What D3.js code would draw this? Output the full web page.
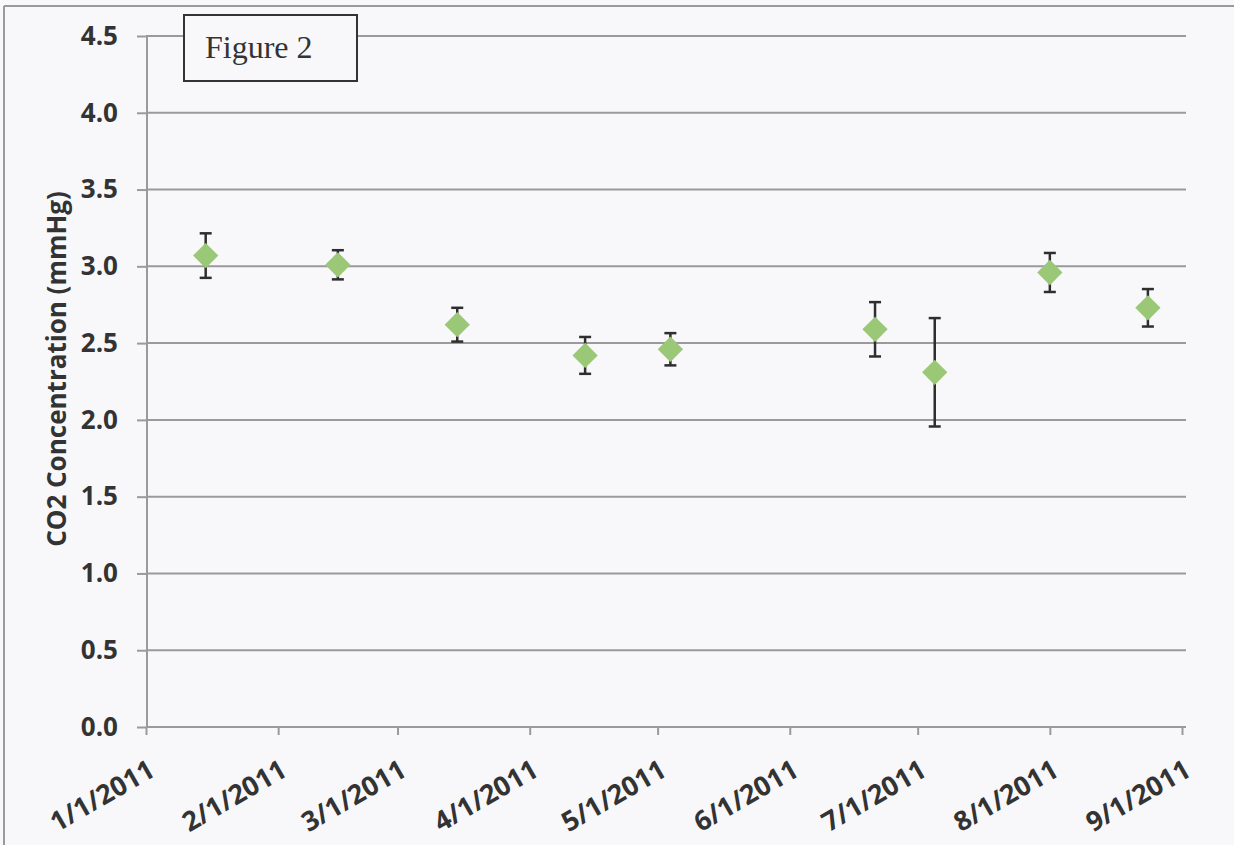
<!DOCTYPE html>
<html>
<head>
<meta charset="utf-8">
<script src="https://cdn.jsdelivr.net/npm/d3@7"></script>
<style>
  html, body { margin: 0; padding: 0; background: #f8f8fb; }
  svg { display: block; }
</style>
</head>
<body>
<div id="chart"></div>
<script>
// sample dates, mean CO2 and +/- error
var sampleDates = ["2011-01-15", "2011-02-15", "2011-03-15", "2011-04-14", "2011-05-04",
                   "2011-06-21", "2011-07-05", "2011-08-01", "2011-08-24"];
var co2Values = [3.07, 3.01, 2.62, 2.42, 2.46, 2.59, 2.31, 2.96, 2.73];
var co2Errors = [0.145, 0.095, 0.11, 0.12, 0.105, 0.177, 0.353, 0.127, 0.122];
var xTickDates = ["2011-01-01", "2011-02-01", "2011-03-01", "2011-04-01", "2011-05-01",
                  "2011-06-01", "2011-07-01", "2011-08-01", "2011-09-01"];
var yTicks = [0, 0.5, 1, 1.5, 2, 2.5, 3, 3.5, 4, 4.5];

var width = 1234, height = 845;
var parse = d3.timeParse("%Y-%m-%d");

var svg = d3.select("#chart")
  .append("svg")
  .attr("width", width)
  .attr("height", height);

svg.append("rect")
  .attr("width", width)
  .attr("height", height)
  .attr("fill", "#f8f8fb");

// scan frame (left and top edge)
svg.append("line")
  .attr("x1", 4).attr("y1", 6).attr("x2", 4).attr("y2", height)
  .style("stroke", "#9a9a9a").style("stroke-width", "2px");
svg.append("line")
  .attr("x1", 4).attr("y1", 6).attr("x2", width).attr("y2", 6)
  .style("stroke", "#9a9a9a").style("stroke-width", "2px");

var x = d3.scaleTime()
  .domain([parse(xTickDates[0]), parse(xTickDates[xTickDates.length - 1])])
  .range([146, 1182]);

var y = d3.scaleLinear()
  .domain([0, 4.5])
  .range([727, 36]);

var points = sampleDates.map(function (d, i) {
  return { date: parse(d), value: co2Values[i], err: co2Errors[i] };
});

//Gridlines
svg.append("g")
  .selectAll("line")
  .data(yTicks)
  .enter()
  .append("line")
  .attr("x1", 146)
  .attr("x2", 1186)
  .attr("y1", function (d) { return y(d); })
  .attr("y2", function (d) { return y(d); })
  .style("stroke", "#9a9a9a")
  .style("stroke-width", "2px");

//Y axis
var yAxis = svg.append("g")
  .attr("transform", "translate(147,0)")
  .call(d3.axisLeft(y)
    .tickValues(yTicks)
    .tickSize(10)
    .tickPadding(19)
    .tickFormat(d3.format(".1f")));

yAxis.select(".domain")
  .attr("d", "M0," + y(4.5) + "V" + y(0))
  .style("stroke", "#9a9a9a")
  .style("stroke-width", "2px");
yAxis.selectAll(".tick line")
  .style("stroke", "#9a9a9a")
  .style("stroke-width", "2px");
yAxis.selectAll(".tick text")
  .style("font-family", "'Open Sans', sans-serif")
  .style("font-weight", "bold")
  .style("font-size", "26px")
  .attr("fill", "#333");

//X axis
var xAxis = svg.append("g")
  .attr("transform", "translate(0," + y(0) + ")")
  .call(d3.axisBottom(x)
    .tickValues(xTickDates.map(parse))
    .tickSize(8)
    .tickFormat(d3.timeFormat("%-m/%-d/%Y")));

xAxis.select(".domain")
  .attr("d", "M" + x.range()[0] + ",0H1184")
  .style("stroke", "#9a9a9a")
  .style("stroke-width", "2px");
xAxis.selectAll(".tick line")
  .style("stroke", "#9a9a9a")
  .style("stroke-width", "2px");
xAxis.selectAll(".tick text")
  .attr("x", 0)
  .attr("y", 0)
  .attr("dy", 0)
  .attr("text-anchor", "end")
  .attr("transform", "translate(10,48) rotate(-30)")
  .style("font-family", "'Open Sans', sans-serif")
  .style("font-weight", "bold")
  .style("font-size", "27px")
  .attr("fill", "#333");

//Y axis title
svg.append("text")
  .attr("transform", "translate(66,369) rotate(-90)")
  .attr("text-anchor", "middle")
  .style("font-family", "'Open Sans', sans-serif")
  .style("font-weight", "bold")
  .style("font-size", "26px")
  .attr("fill", "#333")
  .text("CO2 Concentration (mmHg)");

//Error bars
var bars = svg.append("g")
  .selectAll("g")
  .data(points)
  .enter()
  .append("g")
  .style("stroke", "#2e2e2e")
  .style("stroke-width", "2.5px");

bars.append("line")
  .attr("x1", function (d) { return x(d.date); })
  .attr("x2", function (d) { return x(d.date); })
  .attr("y1", function (d) { return y(d.value + d.err); })
  .attr("y2", function (d) { return y(d.value - d.err); });
bars.append("line")
  .attr("x1", function (d) { return x(d.date) - 6; })
  .attr("x2", function (d) { return x(d.date) + 6; })
  .attr("y1", function (d) { return y(d.value + d.err); })
  .attr("y2", function (d) { return y(d.value + d.err); });
bars.append("line")
  .attr("x1", function (d) { return x(d.date) - 6; })
  .attr("x2", function (d) { return x(d.date) + 6; })
  .attr("y1", function (d) { return y(d.value - d.err); })
  .attr("y2", function (d) { return y(d.value - d.err); });

//Diamond markers
svg.append("g")
  .selectAll("path")
  .data(points)
  .enter()
  .append("path")
  .attr("d", d3.symbol().type(d3.symbolSquare).size(320))
  .attr("transform", function (d) {
    return "translate(" + x(d.date) + "," + y(d.value) + ") rotate(45)";
  })
  .style("fill", "#9bc877");

//Figure label box
svg.append("rect")
  .attr("x", 184)
  .attr("y", 15)
  .attr("width", 173)
  .attr("height", 66)
  .attr("fill", "#f8f8fb")
  .style("stroke", "#333")
  .style("stroke-width", "2px");

svg.append("text")
  .attr("x", 205)
  .attr("y", 58)
  .style("font-family", "'Liberation Serif', 'Times New Roman', serif")
  .style("font-size", "32px")
  .attr("fill", "#333")
  .text("Figure 2");
</script>
</body>
</html>
